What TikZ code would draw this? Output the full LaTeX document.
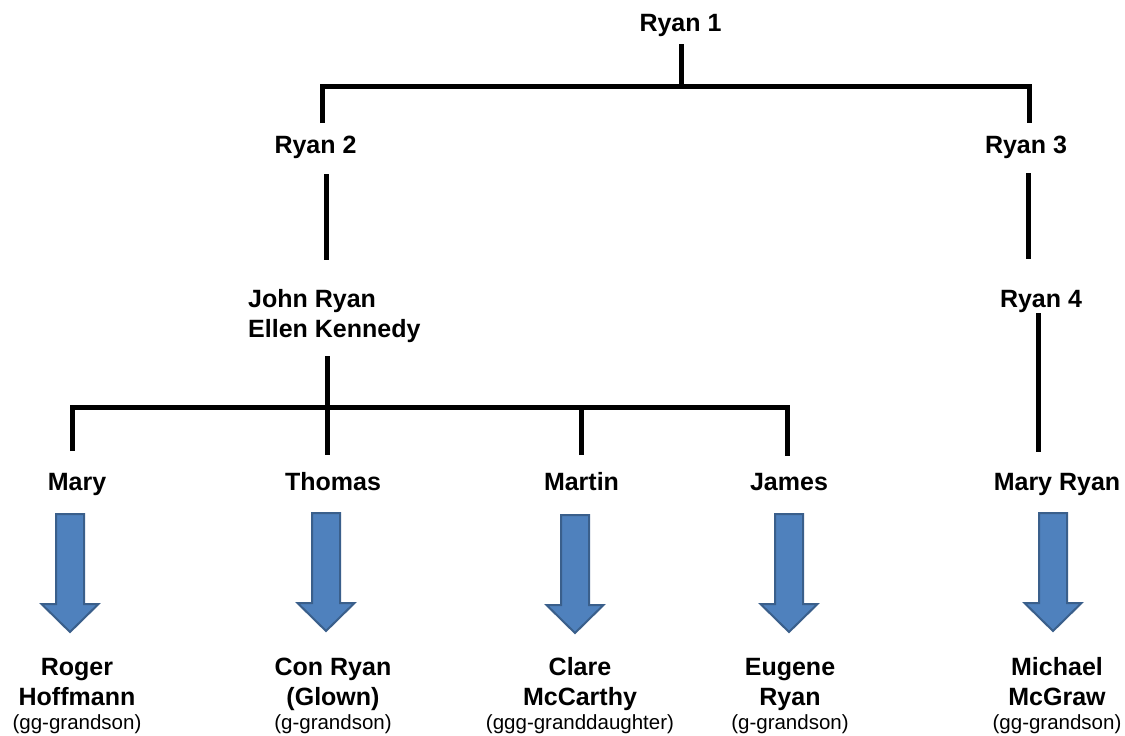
\documentclass[tikz,border=0pt]{standalone}
\usepackage{fontspec}
\setmainfont{Liberation Sans}
\definecolor{arrowfill}{HTML}{4F81BD}
\definecolor{arrowedge}{HTML}{3A5F8B}
\tikzset{
  person/.style={font=\fontsize{25}{30}\selectfont\bfseries, inner sep=0pt, anchor=base, align=center},
  desc/.style={font=\fontsize{25}{30}\selectfont\bfseries, inner sep=0pt, anchor=base, align=center},
  treeline/.style={line width=5pt, black},
  arrowstyle/.style={fill=arrowfill, draw=arrowedge, line width=2pt, line join=miter},
  bigarrow/.pic={\draw[arrowstyle] (-14,0) -- (14,0) -- (14,90) -- (28.5,90) -- (0,118) -- (-28.5,90) -- (-14,90) -- cycle;}
}
\newcommand{\rel}[1]{\fontsize{20.5}{24}\selectfont\mdseries #1}
\begin{document}
\begin{tikzpicture}[x=1pt,y=-1pt]
\useasboundingbox[fill=white] (0,0) rectangle (1125,736);
% people
\node[person] (r1) at (680.5,31) {Ryan 1};
\node[person] (r2) at (315.5,153) {Ryan 2};
\node[person] (r3) at (1026,153) {Ryan 3};
\node[person] (r4) at (1041,307) {Ryan 4};
\node[person, anchor=base west, align=left] (jr) at (248,337) {John Ryan\\Ellen Kennedy};
\node[person] (mary) at (77,490) {Mary};
\node[person] (thomas) at (333,490) {Thomas};
\node[person] (martin) at (581.5,490) {Martin};
\node[person] (james) at (789,490) {James};
\node[person] (maryr) at (1057,490) {Mary Ryan};
% descendants
\node[desc] (d1) at (77,729) {Roger\\Hoffmann\\[-6pt]\rel{(gg-grandson)}};
\node[desc] (d2) at (333,729) {Con Ryan\\(Glown)\\[-6pt]\rel{(g-grandson)}};
\node[desc] (d3) at (580,729) {Clare\\McCarthy\\[-6pt]\rel{(ggg-granddaughter)}};
\node[desc] (d4) at (790,729) {Eugene\\Ryan\\[-6pt]\rel{(g-grandson)}};
\node[desc] (d5) at (1057,729) {Michael\\McGraw\\[-6pt]\rel{(gg-grandson)}};
% connector end points
\coordinate (r1s) at (681.5,44);
\coordinate (topbar) at (681.5,86);
\coordinate (r2n) at (322,123);
\coordinate (r3n) at (1029,123);
\coordinate (r2s) at (326,174);
\coordinate (jrn) at (326,260);
\coordinate (r3s) at (1028,173);
\coordinate (r4n) at (1028,259);
\coordinate (jrs) at (327,356);
\coordinate (thomasn) at (327,455);
\coordinate (sibbar) at (327,407);
\coordinate (maryn) at (72,451);
\coordinate (martinn) at (581,455);
\coordinate (jamesn) at (787,456);
\coordinate (r4s) at (1038,313);
\coordinate (maryrn) at (1038,452);
% tree lines
\draw[treeline] (r1s) -- (topbar);
\draw[treeline] (r2n) |- (topbar) -| (r3n);
\draw[treeline] (r2s) -- (jrn);
\draw[treeline] (r3s) -- (r4n);
\draw[treeline] (jrs) -- (thomasn);
\draw[treeline] (maryn) |- (sibbar) -| (jamesn);
\draw[treeline] (martinn) -- (martinn |- sibbar);
\draw[treeline] (r4s) -- (maryrn);
% descent arrows
\pic (a1) at (70,514) {bigarrow};
\pic (a2) at (326,513) {bigarrow};
\pic (a3) at (575,515) {bigarrow};
\pic (a4) at (789,514) {bigarrow};
\pic (a5) at (1053,513) {bigarrow};
\end{tikzpicture}
\end{document}
